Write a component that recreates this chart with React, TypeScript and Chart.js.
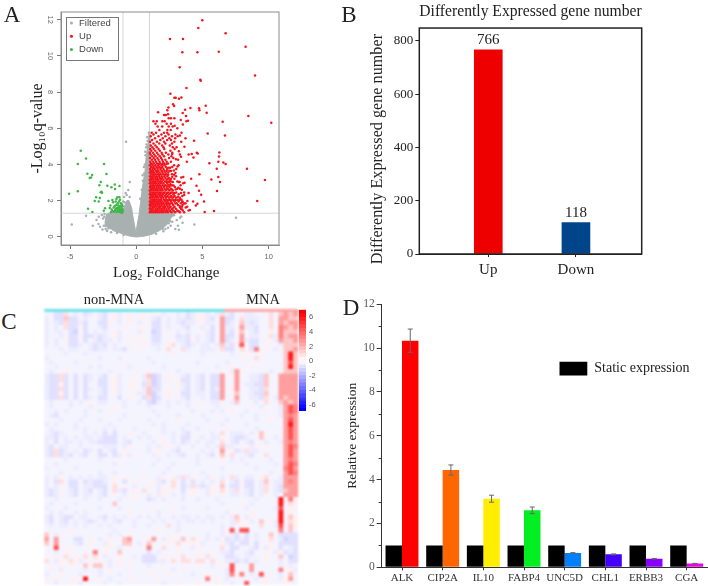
import React, { useEffect, useRef } from "react";
import { Chart, registerables } from "chart.js";

Chart.register(...registerables);

const SERIF = "'Liberation Serif', 'Times New Roman', serif";
const SANS = "'Liberation Sans', Arial, sans-serif";

/* ---------- Panel A: volcano plot ---------- */
const volcanoLegend = ["Filtered", "Up", "Down"];
const volcanoXTicks = [-5, 0, 5, 10];
const volcanoYTicks = [0, 2, 4, 6, 8, 10, 12];
const foldChangeCutoffs = [-1, 1];
const qValueCutoff = 1.3;

const filteredMass = [
  [-2.3, 0.55], [-2.35, 0.85], [-2.25, 1.25], [-1.4, 1.4], [-1, 1.45], [-0.85, 1.75], [-0.7, 2.0], [-0.55, 2.0],
  [-0.35, 1.6], [-0.27, 1.2], [-0.12, 0.6], [-0.02, 0.2], [0.06, 0.6], [0.21, 1.2], [0.33, 1.9], [0.41, 2.4],
  [0.52, 3.0], [0.66, 3.6], [0.72, 4.2], [0.79, 4.63], [0.9, 5.2], [0.98, 5.8], [1.03, 5.8], [1.03, 1.3],
  [2.9, 1.3], [2.6, 1.0], [2.3, 0.65], [1.8, 0.35], [1.2, 0.14], [0.6, 0.03], [0, -0.02], [-0.6, 0.05],
  [-1.2, 0.2], [-1.8, 0.35],
];
const filteredPoints = [
  [-0.77, 5.25], [-0.49, 3.02], [-4.87, 0.68], [-3.79, 1.16], [7.53, 1.05], [4.39, 0.68], [-2.83, 1.1], [-3.0, 0.92],
  [-2.85, 0.7], [-3.28, 0.61], [-2.73, 0.55], [3.06, 0.92], [3.5, 0.77], [3.3, 1.05], [3.15, 0.6], [2.85, 1.18],
  [3.4, 1.12], [2.72, 0.82], [2.6, 0.6], [2.95, 0.42], [3.22, 0.38], [2.4, 0.5], [-2.5, 1.0], [-2.45, 0.6],
  [-2.55, 0.4], [-2.2, 0.32], [-2.6, 1.2], [-1.9, 0.25], [-2.4, 1.25], [-0.6, 2.58], [-0.72, 2.3], [-0.92, 2.2],
  [-0.8, 2.42], [-0.5, 2.2], [-0.98, 1.95], [-0.88, 1.9], [0.6, 3.5], [0.7, 4.5], [0.75, 4.95], [0.85, 5.3],
  [0.95, 5.75], [0.82, 5.5], [0.5, 3.1], [0.42, 2.6], [0.65, 4.0], [0.58, 3.85], [0.9, 5.0], [0.68, 4.7],
  [0.78, 5.1], [0.3, 2.1], [0.48, 3.4], [2.2, 0.42], [2.05, 0.3], [1.5, 0.16], [-1.45, 0.2], [-0.95, 0.1],
  [2.0, 0.42], [2.45, 0.75], [2.7, 1.18], [2.55, 0.85], [-2.1, 0.45], [-2.3, 0.42], [-2.42, 1.1], [-2.0, 1.28],
];
const upSparse = [
  [4.99, 11.98], [4.69, 11.54], [6.75, 11.26], [2.55, 10.93], [3.53, 10.93], [8.26, 10.51], [3.48, 10.21], [4.62, 10.21],
  [6.23, 10.23], [3.28, 9.38], [8.97, 8.92], [4.84, 8.68], [4.87, 8.63], [3.79, 8.22], [2.58, 7.91], [2.88, 7.69],
  [2.98, 7.69], [3.23, 7.63], [3.41, 7.7], [5.25, 7.24], [2.78, 7.32], [2.86, 7.23], [4.09, 7.12], [3.69, 7.02],
  [4.74, 7.1], [4.77, 7.0], [2.43, 7.15], [2.35, 7.0], [5.32, 6.86], [1.65, 6.88], [3.51, 6.84], [2.1, 6.73],
  [2.23, 6.73], [2.4, 6.78], [8.47, 6.67], [6.53, 6.36], [10.2, 6.3], [3.79, 6.38], [5.4, 5.71], [6.7, 5.6],
  [4.37, 5.31], [3.64, 4.98], [6.28, 4.66], [6.25, 4.44], [4.57, 4.65], [4.64, 4.6], [3.96, 4.55], [4.19, 4.57],
  [5.52, 4.06], [6.2, 4.15], [6.58, 4.11], [6.75, 4.02], [6.08, 3.76], [8.36, 3.76], [4.77, 3.45], [6.2, 3.3],
  [5.67, 3.17], [6.33, 3.02], [9.72, 3.13], [6.1, 2.53], [4.74, 2.54], [9.14, 1.97], [5.12, 1.94], [4.62, 1.82],
  [4.3, 1.94], [5.17, 1.36], [5.87, 1.42], [4.55, 2.82], [4.9, 2.32], [4.5, 1.72], [3.95, 2.42], [4.15, 3.2],
  [3.65, 2.98], [3.4, 3.28], [3.55, 3.3], [3.82, 4.15], [4.32, 4.38], [3.3, 5.6], [3.42, 5.75], [3.72, 5.45],
  [3.1, 6.0], [3.52, 6.2], [2.9, 6.14], [3.36, 6.46], [3.76, 6.67], [2.88, 6.55], [3.91, 6.41],
  [2.72, 3.32], [2.96, 3.52], [3.12, 3.88], [2.84, 3.66], [3.28, 3.02], [3.18, 2.71], [3.44, 2.6], [3.62, 2.3],
  [3.3, 2.08], [3.5, 1.92], [3.74, 1.62], [3.28, 1.7], [3.12, 1.42], [3.42, 1.52], [3.86, 1.98], [4.05, 1.48],
  [2.84, 2.41], [2.96, 2.02], [2.68, 1.52], [2.58, 2.9], [3.0, 4.28], [2.72, 4.58], [3.22, 4.72], [3.38, 4.42],
];
const upRows: [number, number[]][] = [
  [1.35, [1.03, 1.18, 1.32, 1.46, 1.6, 1.74, 1.9, 2.05, 2.22, 2.4, 2.66, 2.95, 3.3, 3.62]],
  [1.45, [1.08, 1.24, 1.4, 1.55, 1.7, 1.86, 2.0, 2.16, 2.33, 2.52, 2.8, 3.1, 3.52, 3.95]],
  [1.55, [1.02, 1.15, 1.3, 1.48, 1.62, 1.78, 1.95, 2.1, 2.28, 2.45, 2.72, 3.0, 3.4]],
  [1.65, [1.06, 1.22, 1.38, 1.52, 1.68, 1.84, 2.02, 2.2, 2.38, 2.6, 2.9, 3.45, 3.85]],
  [1.75, [1.02, 1.16, 1.3, 1.44, 1.6, 1.76, 1.92, 2.12, 2.3, 2.5, 2.78, 3.15, 3.5]],
  [1.85, [1.08, 1.25, 1.4, 1.56, 1.72, 1.88, 2.06, 2.26, 2.44, 2.7, 3.05, 3.38, 3.72]],
  [1.95, [1.03, 1.18, 1.34, 1.5, 1.66, 1.82, 1.98, 2.18, 2.36, 2.62, 2.88, 3.2, 3.48]],
  [2.05, [1.1, 1.26, 1.42, 1.58, 1.74, 1.9, 2.1, 2.32, 2.55, 2.82, 3.12, 3.42]],
  [2.15, [1.04, 1.2, 1.36, 1.52, 1.68, 1.86, 2.04, 2.24, 2.48, 2.72, 3.0, 3.3]],
  [2.25, [1.1, 1.28, 1.44, 1.6, 1.78, 1.96, 2.16, 2.38, 2.64, 2.9, 3.48]],
  [2.35, [1.03, 1.18, 1.34, 1.5, 1.68, 1.84, 2.02, 2.26, 2.5, 2.8, 3.2]],
  [2.45, [1.08, 1.24, 1.4, 1.58, 1.74, 1.92, 2.14, 2.4, 2.68, 3.02, 3.62]],
  [2.55, [1.02, 1.16, 1.32, 1.48, 1.64, 1.82, 2.0, 2.22, 2.52, 2.76]],
  [2.65, [1.1, 1.26, 1.42, 1.6, 1.76, 1.94, 2.14, 2.36, 2.62, 3.1, 3.3]],
  [2.75, [1.04, 1.2, 1.36, 1.54, 1.7, 1.88, 2.08, 2.3, 2.5, 2.92]],
  [2.85, [1.1, 1.28, 1.44, 1.6, 1.78, 1.98, 2.2, 2.44, 2.7, 3.35]],
  [2.95, [1.03, 1.18, 1.34, 1.5, 1.68, 1.86, 2.06, 2.34, 3.55]],
  [3.05, [1.08, 1.24, 1.42, 1.6, 1.76, 1.96, 2.18, 2.42, 2.64, 3.1]],
  [3.15, [1.02, 1.16, 1.32, 1.5, 1.66, 1.84, 2.06, 2.3, 2.55]],
  [3.25, [1.1, 1.26, 1.44, 1.6, 1.78, 1.98, 2.2, 2.46]],
  [3.35, [1.04, 1.2, 1.38, 1.54, 1.72, 1.92, 2.12, 2.35, 3.0]],
  [3.45, [1.12, 1.28, 1.46, 1.64, 1.84, 2.04, 2.28, 2.7]],
  [3.55, [1.03, 1.2, 1.36, 1.56, 1.76, 1.98, 2.2, 2.42]],
  [3.65, [1.1, 1.28, 1.48, 1.68, 1.9, 2.14, 2.5]],
  [3.75, [1.04, 1.22, 1.4, 1.6, 1.82, 2.06, 2.34, 3.02]],
  [3.85, [1.12, 1.32, 1.52, 1.74, 1.98, 2.24, 2.72]],
  [3.95, [1.03, 1.24, 1.44, 1.66, 1.9, 2.14, 2.86, 3.2]],
  [4.05, [1.12, 1.36, 1.58, 1.82, 2.1, 2.4]],
  [4.15, [1.06, 1.28, 1.5, 1.76, 2.02, 2.3, 2.62]],
  [4.25, [1.18, 1.42, 1.68, 1.96, 2.2, 3.16]],
  [4.35, [1.04, 1.32, 1.6, 1.88, 2.48, 2.8]],
  [4.45, [1.2, 1.46, 1.78, 2.1, 2.66]],
  [4.55, [1.08, 1.36, 1.66, 1.98, 2.42, 3.3]],
  [4.65, [1.02, 1.26, 1.56, 1.92, 2.24, 2.72]],
  [4.75, [1.14, 1.44, 1.78, 2.58]],
  [4.85, [1.06, 1.32, 1.68, 2.12, 2.9]],
  [4.95, [1.22, 1.56, 2.06, 2.76, 3.05]],
  [5.05, [1.1, 1.44, 1.96, 2.54]],
  [5.15, [1.3, 1.74, 2.2, 2.7]],
  [5.25, [1.05, 1.56, 2.1, 2.88, 3.4]],
  [5.35, [1.2, 1.82, 2.34, 2.62]],
  [5.45, [1.42, 2.0, 2.5, 2.94]],
  [5.55, [1.1, 1.68, 2.2, 2.7, 3.13]],
  [5.65, [1.3, 1.9, 2.44, 2.96]],
  [5.75, [1.17, 1.5, 2.1, 2.34]],
  [5.9, [1.75, 2.35, 2.6]],
  [6.1, [1.62, 1.96, 2.45, 2.75]],
  [6.25, [1.45, 2.3, 2.62]],
  [6.38, [1.3, 1.55, 1.97, 2.15]],
  [6.55, [2.45, 2.62]],
  [1.41, [1.12, 1.51, 1.93, 2.31, 2.57, 2.84, 3.21]],
  [1.62, [1.26, 1.73, 2.14, 2.53, 2.83, 3.3]],
  [1.83, [1.14, 1.63, 1.97, 2.37, 2.58, 2.96, 3.62]],
  [2.02, [1.33, 1.81, 2.21, 2.46, 2.68, 2.95, 3.25]],
  [2.21, [1.17, 1.57, 1.93, 2.31, 2.58, 2.81, 3.15]],
  [2.42, [1.29, 1.78, 2.08, 2.33, 2.59, 2.9, 3.38]],
  [2.61, [1.13, 1.56, 1.88, 2.29, 2.44, 2.7, 2.98]],
  [2.83, [1.24, 1.66, 2.13, 2.37, 2.6, 2.82]],
  [3.02, [1.38, 1.83, 2.27, 2.5, 2.76, 3.2]],
  [3.21, [1.14, 1.55, 1.9, 2.38, 2.62, 2.88]],
  [3.42, [1.33, 1.73, 2.16, 2.42, 2.86]],
  [3.63, [1.16, 1.6, 1.96, 2.3, 2.62]],
  [3.82, [1.28, 1.62, 1.88, 2.42, 2.56]],
  [4.02, [1.17, 1.72, 1.98, 2.28]],
];
const downPoints = [
  [-4.19, 4.76], [-3.79, 4.33], [-4.41, 4.02], [-2.43, 4.02], [-3.69, 3.48], [-3.33, 3.41], [-3.51, 3.24], [-3.41, 3.28],
  [-2.25, 3.47], [-5.07, 2.38], [-4.41, 2.51], [-2.68, 3.02], [-2.78, 2.84], [-2.18, 2.82], [-1.62, 2.89], [-1.27, 2.8],
  [-1.87, 2.73], [-1.6, 2.64], [-2.63, 2.49], [-2.58, 2.43], [-2.68, 2.46], [-3.03, 2.18], [-2.75, 2.14], [-3.13, 1.97],
  [-2.83, 1.94], [-3.64, 1.55], [-3.31, 1.36], [-2.35, 1.57], [-2.45, 1.44], [-2.1, 1.97], [-1.8, 2.03], [-1.42, 2.18],
  [-1.27, 2.18], [-1.95, 1.72], [-1.85, 1.5], [-1.75, 1.9], [-1.68, 1.38], [-1.62, 1.7], [-1.58, 1.48], [-1.55, 1.95],
  [-1.5, 2.08], [-1.48, 1.36], [-1.44, 1.6], [-1.4, 1.85], [-1.38, 1.45], [-1.35, 1.72], [-1.32, 1.38], [-1.3, 1.95],
  [-1.28, 1.55], [-1.25, 1.42], [-1.22, 2.05], [-1.2, 1.7], [-1.18, 1.35], [-1.16, 1.85], [-1.14, 1.5], [-1.12, 1.62],
  [-1.1, 1.4], [-1.08, 1.78], [-1.06, 1.33], [-1.04, 1.52], [-1.03, 1.68], [-1.02, 1.42], [-1.55, 1.55], [-1.7, 1.62],
  [-1.8, 1.42], [-1.9, 1.36], [-1.5, 1.75], [-1.3, 1.62], [-1.2, 1.5], [-1.42, 1.5], [-1.62, 1.42], [-2.0, 1.58],
];

/* ---------- Panel B ---------- */
const geneTitle = "Differently Expressed gene number";
const directionLabels = ["Up", "Down"];
const directionCounts = [766, 118];
const directionColors = ["#ee0000", "#00458a"];
const countTicks = [0, 200, 400, 600, 800];

/* ---------- Panel C: heat map, one string per row, one character per sample ---------- */
const heatLevels: Record<string, number> = {
  ".": -0.28, a: -0.5, b: -0.78, c: -1.15, "1": 0.4, "2": 0.85, "3": 1.45, "4": 2.5, "5": 3.3, "6": 4.5, "7": 6,
};
const nonMnaCount = 37;
const mnaCount = 15;
const heatRows = [
  "..bb2.a.ba .ab.1a.1.. ..1.a..a.b a.1a.a2ab. .aa...2.34 34",
  "a.bb3bb.a. .ab.1a.1.1 1.ab.a.aab a11ab.4bb. 2aaa..2.44 33",
  "a.ab2bbab. .bb1.a.1.a .1bb.a.aba a.1aa.4ba. 3aba..2.43 44",
  "a.a.2bb1b. .ab...1..1 ..bb.a..ab ..a.b.4aa. 4aab..2.54 34",
  "a.aa.bc.b. a.a.1a...a 1.cb.1.a.a ..1ab.4ab1 3.ab..1.53 33",
  "a..a.bb1bb aba.1a.1.1 ..bb...bab .a.ab.4bb. 4.aa..2a53 44",
  "a.a.1bb.b. abaa.a..1. 1.bb.1.aab 1a.ab.4ba. 4abb.1.a43 34",
  "a.a..bba.a bab.a..1.. 1.aa.12.ab a.aa.a3ab1 6.bb..1.a3 33",
  "...a.aa..a baa.aab..1 ...a.2..2a ..aaa.2bb. 21b5.1.a.3 34",
  "....a...a. .......... ......1... ..a.....a. .1..1....3 73",
  "a......... .a...a.... .a........ .......... 1..2.....3 73",
  ".a....a... ......1... ..a....... .a.....a.. ....1....3 63",
  "..a......a .a.....a.. ....a..... .....a..1. ..1......3 73",
  ".a..1..... ...a...... .1.....a.. ......1.a4 1.....a..3 33",
  "abb2b.b.ba .ab.1a..1. a3cb.1..ab .ab.bb4.14 ..aab3..44 44",
  "abb2b.b.ba .bb.1a..1. a2cb.1.1bb .ab.bb4..4 ..aab3..44 44",
  "abb1b.b.b. .bb.1a.1.. b2cb...1ab .ab.bb4..4 .aabb3..44 44",
  "abb2b.b.ba .ab.1a..1. a3bb.1..ab .ab.ba4.14 ..aab2..44 44",
  "abb1b.b.b. .ab.1a..1a a3ca.1.1bb .aa.bb4..3 ..abb3..44 44",
  "abb2b.b.ba .bb..b.1.. b2cb.1..ab ..a.bb4..4 ..aab2.a43 44",
  ".a...a.a.1 .aa...a..a .bca.a.a.a ..1.aa1.a3 ...a.2..34 34",
  ".a...a...a ....1.a... .a...a...a .....a.... ..1.a...a4 65",
  "..a.a...a. .a.1...... ..a....... a...a.a.1. .a...1..a4 65",
  ".ab.....a. ......a... ...a...a.. ..a....... a..a....a4 54",
  "...a...a.. .a...a.... .a.....1.. ...a...a.. ...a..1..4 64",
  "a.a...a... ...a...... ..a.a....a ......a... .a.......4 74",
  ".a....a.a. ..a.a...a. ....a...a. .a.....1.. ...a.....4 64",
  ".aba....a. a.b.b..1.. a...a.a.ab ....a.2.aa a.a.3....4 64",
  "aab.a.a.aa .abbb.a..a .a.1..a.bb .1a.aa1.ab ba..3..a.4 64",
  "a.b.aa.a.a abbbb.ab.. ..a.1.a.ba .a.aa.2.ab .ab..a..a4 54",
  "ab.aa..a.. ..aaa.a1.. .a.a.1.a.. a..a.a3aa. .1a1.1...4 65",
  "ab2ba.a.ba .b.ab.1... .a.1..ab.. ..a.a.4.1b a2aa.....4 64",
  "ab2bab.ab. .bb.ba.a1. ..a1.a.ab. .a.ab.3.2. .ab..2...4 64",
  "....a..... .a...1.... ...a...... .a....1.a. a.....a..4 54",
  "..a....... ....a..... ..a...a... .a........ .a.....a.4 65",
  "a.....a... .......... .....a.... ......a... ...a.....5 64",
  "...a...... .a..a..... ....a..... ..a....... ......a..4 65",
  "a.a1.a.a.a .aa.1.1... 1..a1.1a2a 1..a1.a.2a .aa.12..a4 44",
  "a.b2.bb.ba bba.1.b.1. ..1ab.2.b. b.a.a.2.ab 1bb.a3.aa4 54",
  "a.a1.bb.aa bbb.2.1.a. .1.a1.2.ba 2aba1.3.bb .bb.a2.ab4 44",
  "aba..ab.ab .ab.2ab.1. 2..a1.1.b. 1..a1.2.a2 .ab.a2.ab3 44",
  "aba1.ab.aa .ab.1.a.1. .a1a1.a.a. 1..a1.1.aa .ab.a1.a.4 44",
  "..a.....a. .a...a..1. .ba.a...a. .a...a.... ...a....7. 51",
  ".a....a... ....3..... .....1.... ......a... 1.a.....7. 21",
  "a...a..... .a...a.... ..1.....a. ...a...... .a.....a6. 1.",
  ".a.a..a.a. .......1.. ...a..1... .......a1. ..1.....7. 1.",
  "ab.abb.aa. .ab.a.a..a .a.a..a.aa .a.aa.a.a3 .a1.....7. 31",
  "ab.ab.a.ab a.a.ab..a. ..a.a..a.a a.a.a...a2 1.a.3.1a7. 21",
  ".a.aa.a.a. .a.a....a. .a...2.a.. ......a.a. .1..2..a6. 31",
  ".....1.... ....a..... ...1...a.. ......a.6. 66......5. 3.",
  "3.a1...... ...a.a.1.. .......1.. ...a..a1ab .b.a..3.bb bb",
  "4.4...bb.1 .a.1..34.. .14.a11.3. 21.a.a.bab ab.a..2.ac bb",
  "3.4...ab.1 ..a1..33.a .3...1.2.1 1.a...1ab. bb.b..1.bb bb",
  "..6..1.... ..11.a.1.. .5..2..1.. a.1...2.bb ..ab.a1.b. ab",
  "..a.1...1. 5.1..3.... .b.a...1.. .1..1.aab. .ab..1.a1b ab",
  "1.1.2.1.2. 2.a..1..a. bbb.1.1.2. .1.2...bba .aa..1..3. cb",
  "2.a1.21a.1 .1.a.1.1.. bbbaa.2.22 .22.2..aab ab.a.1..a. bb",
  "...1.1..3. 33.a.1.... .a..1..... .1..a.1.6. ..4.....a1 a.",
  ".1.a....a. .a.1...1.. ..1...a.1. .......a6. ..4.....5. 1a",
  "a..1...a.. .a...a.... .1...1.... a..1...a5. 5.a.6...a. 3.",
  "..1...1.7. .1.a...1.. ...1...... ...5.1.a.. ...a.1..a1 4.",
  "1.a..1.a.. ..a..a.... 1...a..1.. .1...1..a. .6...1...1 ..",
];
const colorbarStops = [-7, -6.5, -6, -5.5, -5, -4.5, -4, -3.5, -3, -2.5, -2, -1.5, -1, -0.5, 0, 0.5, 1, 1.5, 2, 2.5, 3, 3.5, 4, 4.5, 5, 5.5, 6, 6.5, 7];
const colorbarTicks = [-6, -4, -2, 0, 2, 4, 6];

/* ---------- Panel D ---------- */
const qpcrGenes = ["ALK", "CIP2A", "IL10", "FABP4", "UNC5D", "CHL1", "ERBB3", "CGA"];
const staticExpression = [1, 1, 1, 1, 1, 1, 1, 1];
const relativeExpression = [10.34, 4.44, 3.13, 2.6, 0.65, 0.59, 0.39, 0.17];
const relativeErrors = [0.53, 0.23, 0.16, 0.15, 0.02, 0.02, 0.01, 0.01];
const geneColors = ["#ff0000", "#ff6600", "#ffee00", "#00ee22", "#0080ff", "#4400ff", "#8800ff", "#ee00ee"];
const minorExpressionTicks = [1, 3, 5, 7, 9, 11];
const expressionTicks = [0, 2, 4, 6, 8, 10, 12];

/* ---------- helpers ---------- */
const fixSize = (dim: "width" | "height", size: number) => (s: any) => {
  s[dim] = size;
  s.paddingLeft = s.paddingRight = s.paddingTop = s.paddingBottom = 0;
};
const pairs = (list: number[][]) => list.map(([x, y]) => ({ x, y }));
const heatColor = (v: number) => {
  const t = Math.min(Math.abs(v) / 6.6, 1);
  const c = Math.round(255 * (1 - t));
  return v >= 0 ? `rgb(255,${c},${c})` : `rgb(${c},${c},255)`;
};

const framePlugin = {
  id: "frame",
  afterDatasetsDraw(chart: any, _a: any, o: any) {
    if (!o.color) return;
    const { left, top, width, height } = chart.chartArea;
    const ctx = chart.ctx;
    ctx.save();
    ctx.strokeStyle = o.color;
    ctx.lineWidth = o.width;
    ctx.strokeRect(left, top, width, height);
    ctx.restore();
  },
};
const legendPlace = {
  id: "legendPlace",
  beforeDraw(chart: any, _a: any, o: any) {
    if (o.left === undefined) return;
    chart.legend.left = o.left;
    chart.legend.top = o.top;
    chart.legend.right = o.left + 300;
    chart.legend.bottom = o.top + 200;
    if (o.box) {
      const ctx = chart.ctx;
      ctx.save();
      ctx.fillStyle = "#fff";
      ctx.strokeStyle = "#777";
      ctx.lineWidth = 1;
      ctx.fillRect(o.box[0], o.box[1], o.box[2], o.box[3]);
      ctx.strokeRect(o.box[0], o.box[1], o.box[2], o.box[3]);
      ctx.restore();
    }
  },
};
const barValues = {
  id: "barValues",
  afterDatasetsDraw(chart: any, _a: any, o: any) {
    if (!o.show) return;
    const ctx = chart.ctx;
    ctx.save();
    ctx.font = o.font;
    ctx.fillStyle = o.color;
    ctx.textAlign = "center";
    ctx.textBaseline = "bottom";
    chart.getDatasetMeta(0).data.forEach((b: any, i: number) => {
      ctx.fillText(String(directionCounts[i]), b.x, b.y - 2);
    });
    ctx.restore();
  },
};
const errorBars = {
  id: "errorBars",
  afterDatasetsDraw(chart: any, _a: any, o: any) {
    if (!o.errors) return;
    const ctx = chart.ctx;
    const y = chart.scales.y;
    const x = chart.scales.x;
    ctx.save();
    ctx.strokeStyle = "#666";
    ctx.lineWidth = 1;
    chart.getDatasetMeta(o.dataset).data.forEach((b: any, i: number) => {
      const v = o.values[i];
      const hi = y.getPixelForValue(v + o.errors[i]);
      const lo = y.getPixelForValue(v - o.errors[i]);
      ctx.beginPath();
      ctx.moveTo(b.x, hi);
      ctx.lineTo(b.x, lo);
      ctx.moveTo(b.x - 2.5, hi);
      ctx.lineTo(b.x + 2.5, hi);
      ctx.moveTo(b.x - 2.5, lo);
      ctx.lineTo(b.x + 2.5, lo);
      ctx.stroke();
    });
    ctx.strokeStyle = "#333";
    (o.minor || []).forEach((v: number) => {
      const p = Math.round(y.getPixelForValue(v)) + 0.5;
      ctx.beginPath();
      ctx.moveTo(x.left - 3, p);
      ctx.lineTo(x.left, p);
      ctx.stroke();
    });
    ctx.restore();
  },
};
Chart.register(framePlugin, legendPlace, barValues, errorBars);

/* ---------- chart configs ---------- */
const GRAY_TICK = "#666";
const configA = (): any => {
  const xMin = -5.68, xMax = 10.78, yMin = -0.46, yMax = 12.43;
  const upPoints = [
    ...upSparse.map(([x, y]) => ({ x, y })),
    ...upRows.flatMap(([y, xs]) => xs.map((x) => ({ x, y }))),
  ];
  const dot = { type: "scatter", pointRadius: 1.25, pointBorderWidth: 0, pointHoverRadius: 1.25, showLine: false, pointStyle: "circle" };
  const rule = { type: "scatter", showLine: true, pointRadius: 0, borderColor: "#d4d6d6", borderWidth: 1, order: 9, fill: false };
  return {
    type: "scatter",
    data: {
      datasets: [
        { ...dot, label: volcanoLegend[0], data: pairs(filteredPoints), backgroundColor: "#a9b0b0", borderColor: "#a9b0b0", order: 4 },
        { ...dot, label: volcanoLegend[1], data: upPoints, backgroundColor: "#f5141e", borderColor: "#f5141e", order: 1 },
        { ...dot, label: volcanoLegend[2], data: pairs(downPoints), backgroundColor: "#3fb548", borderColor: "#3fb548", order: 2 },
        { type: "scatter", label: "mass", data: pairs(filteredMass), showLine: true, fill: "shape", pointRadius: 0, borderWidth: 1, borderColor: "#a9b0b0", backgroundColor: "#a9b0b0", order: 5, tension: 0 },
        { ...rule, label: "low", data: [{ x: foldChangeCutoffs[0], y: yMin }, { x: foldChangeCutoffs[0], y: yMax }] },
        { ...rule, label: "high", data: [{ x: foldChangeCutoffs[1], y: yMin }, { x: foldChangeCutoffs[1], y: yMax }] },
        { ...rule, label: "q", data: [{ x: xMin, y: qValueCutoff }, { x: xMax, y: qValueCutoff }] },
      ],
    },
    options: {
      responsive: false,
      animation: false,
      layout: { padding: { left: 0, top: 12, right: 51, bottom: 0 } },
      plugins: {
        legend: {
          position: "chartArea",
          align: "start",
          labels: {
            usePointStyle: true,
            boxWidth: 5.7,
            boxHeight: 2.2,
            padding: 3.8,
            color: "#444",
            font: { family: SANS, size: 9.5 },
            filter: (i: any) => volcanoLegend.includes(i.text),
            sort: (a: any, b: any) => volcanoLegend.indexOf(a.text) - volcanoLegend.indexOf(b.text),
          },
        },
        tooltip: { enabled: false },
        frame: { color: "#8a8c8c", width: 1 },
        legendPlace: { left: 64.8, top: 14.4, box: [66.5, 17.5, 52, 43] },
      },
      scales: {
        x: {
          type: "linear",
          min: xMin,
          max: xMax,
          afterFit: fixSize("height", 45),
          afterBuildTicks: (a: any) => { a.ticks = volcanoXTicks.map((value) => ({ value })); },
          grid: { drawOnChartArea: false, tickLength: 4, color: "#777" },
          border: { color: "#8a8c8c" },
          ticks: { color: GRAY_TICK, font: { family: SANS, size: 7.5 }, padding: 3, maxRotation: 0 },
          title: { display: true, text: "Log₂ FoldChange  ", font: { family: SERIF, size: 15 }, color: "#222", padding: { top: 0, bottom: 8 } },
        },
        y: {
          type: "linear",
          min: yMin,
          max: yMax,
          afterFit: fixSize("width", 61),
          afterBuildTicks: (a: any) => { a.ticks = volcanoYTicks.map((value) => ({ value })); },
          grid: { drawOnChartArea: false, tickLength: 4, color: "#777" },
          border: { color: "#8a8c8c" },
          ticks: { color: GRAY_TICK, font: { family: SANS, size: 7.5 }, padding: 3, minRotation: -90, maxRotation: -90, crossAlign: "center" },
          title: { display: true, text: "-Log₁₀q-value", font: { family: SERIF, size: 16 }, color: "#222", padding: { top: 28, bottom: 0 } },
        },
      },
    },
  };
};

const configB = (): any => ({
  type: "bar",
  data: {
    datasets: [
      {
        label: geneTitle,
        data: directionLabels.map((_, i) => ({ x: i + 1, y: directionCounts[i] })),
        backgroundColor: directionColors,
        barThickness: 28,
      },
    ],
  },
  options: {
    responsive: false,
    animation: false,
    layout: { padding: { left: 0, top: 0, right: 66.3, bottom: 0 } },
    plugins: {
      legend: { display: false },
      tooltip: { enabled: false },
      title: { display: true, text: geneTitle, fullSize: false, color: "#222", font: { family: SERIF, size: 16.2, weight: "normal" }, padding: { top: 2.3, bottom: 6.3 } },
      frame: { color: "#222", width: 1.5 },
      barValues: { show: true, font: `15px ${SERIF}`, color: "#222" },
    },
    scales: {
      x: {
        type: "linear",
        min: 0.213,
        max: 2.75,
        offset: false,
        afterFit: fixSize("height", 36),
        afterBuildTicks: (a: any) => { a.ticks = directionLabels.map((_, i) => ({ value: i + 1 })); },
        grid: { drawOnChartArea: false, offset: false, tickLength: 3, color: "#222" },
        border: { color: "#222" },
        ticks: { color: "#222", font: { family: SERIF, size: 15 }, padding: 4, maxRotation: 0, callback: (v: number) => directionLabels[v - 1] },
      },
      y: {
        type: "linear",
        min: 0,
        max: 848,
        afterFit: fixSize("width", 89.3),
        afterBuildTicks: (a: any) => { a.ticks = countTicks.map((value) => ({ value })); },
        grid: { drawOnChartArea: false, tickLength: 4, color: "#222" },
        border: { color: "#222" },
        ticks: { color: "#222", font: { family: SERIF, size: 13 }, padding: 2 },
        title: { display: true, text: geneTitle + "    ", color: "#222", font: { family: SERIF, size: 16.2 }, padding: { top: 38.3, bottom: 0 } },
      },
    },
  },
});

const configC = (): any => {
  const rows = heatRows.map((r) => r.replace(/ /g, ""));
  const sampleLabels = Array.from({ length: nonMnaCount + mnaCount }, (_, i) => `S${i + 1}`);
  const groupColors = sampleLabels.map((_, i) => (i < nonMnaCount ? "#62e2e8" : "#ffa3a3"));
  const strip = -0.55;
  return {
    type: "bar",
    data: {
      labels: sampleLabels,
      datasets: [
        { label: "group", data: sampleLabels.map(() => [strip, 0]), backgroundColor: groupColors },
        ...rows.map((row, r) => ({
          label: `gene ${r + 1}`,
          data: sampleLabels.map(() => [r, r + 1]),
          backgroundColor: sampleLabels.map((_, c) => heatColor(heatLevels[row[c]] ?? 0)),
        })),
      ],
    },
    options: {
      responsive: false,
      animation: false,
      layout: { padding: { left: 0.3, top: 0, right: 0.7, bottom: 0 } },
      datasets: { bar: { grouped: false, barPercentage: 1, categoryPercentage: 1, borderWidth: 0 } },
      plugins: { legend: { display: false }, tooltip: { enabled: false } },
      scales: {
        x: { type: "category", display: false, grid: { display: false } },
        y: { type: "linear", display: false, min: strip, max: rows.length, reverse: true },
      },
    },
  };
};

const configBar = (): any => ({
  type: "bar",
  data: {
    labels: ["scale"],
    datasets: colorbarStops.slice(1).map((top, i) => ({
      label: `${top}`,
      data: [[colorbarStops[i], top]],
      backgroundColor: heatColor((colorbarStops[i] + top) / 2),
    })),
  },
  options: {
    responsive: false,
    animation: false,
    layout: { padding: { left: 7, top: 4.3, right: 0, bottom: 4 } },
    datasets: { bar: { grouped: false, barPercentage: 1, categoryPercentage: 1, borderWidth: 0 } },
    plugins: { legend: { display: false }, tooltip: { enabled: false } },
    scales: {
      x: { type: "category", display: false },
      y: {
        type: "linear",
        position: "right",
        min: -6.85,
        max: 7.1,
        afterFit: fixSize("width", 26),
        afterBuildTicks: (a: any) => { a.ticks = colorbarTicks.map((value) => ({ value })); },
        grid: { display: false, drawTicks: false },
        border: { display: false },
        ticks: { color: "#555", font: { family: SANS, size: 7.5 }, padding: 3 },
      },
    },
  },
});

const configD = (): any => ({
  type: "bar",
  data: {
    labels: qpcrGenes,
    datasets: [
      { label: "Static expression", data: staticExpression, backgroundColor: "#000" },
      { label: "Relative expression", data: relativeExpression, backgroundColor: geneColors },
    ],
  },
  options: {
    responsive: false,
    animation: false,
    layout: { padding: { left: 0, top: 14.3, right: 1, bottom: 0 } },
    datasets: { bar: { barPercentage: 1, categoryPercentage: 0.81 } },
    plugins: {
      legend: {
        position: "chartArea",
        align: "start",
        labels: {
          boxWidth: 28,
          boxHeight: 14,
          padding: 0,
          color: "#222",
          font: { family: SERIF, size: 14 },
          filter: (i: any) => i.text === "Static expression",
        },
      },
      tooltip: { enabled: false },
      legendPlace: { left: 229.3, top: 71.5 },
      errorBars: { dataset: 1, values: relativeExpression, errors: relativeErrors, minor: minorExpressionTicks },
    },
    scales: {
      x: {
        afterFit: fixSize("height", 18.7),
        grid: { drawOnChartArea: false, offset: false, tickLength: 3, color: "#333" },
        border: { color: "#333" },
        ticks: { color: "#333", font: { family: SERIF, size: 11 }, padding: 1, maxRotation: 0, autoSkip: false },
      },
      y: {
        min: 0,
        max: 12,
        afterFit: fixSize("width", 51.67),
        afterBuildTicks: (a: any) => { a.ticks = expressionTicks.map((value) => ({ value })); },
        grid: { drawOnChartArea: false, tickLength: 5, color: "#333" },
        border: { color: "#333" },
        ticks: { color: "#555", font: { family: SERIF, size: 11.5 }, padding: 2 },
        title: { display: true, text: "Relative expression", color: "#222", font: { family: SERIF, size: 13.5 }, padding: { top: 13.9, bottom: 0 } },
      },
    },
  },
});

function Panel({ left, top, width, height, config, blur }: { left: number; top: number; width: number; height: number; config: () => any; blur?: number }) {
  const ref = useRef<HTMLCanvasElement>(null);
  useEffect(() => {
    const chart = new Chart(ref.current as HTMLCanvasElement, config());
    return () => chart.destroy();
  }, [config]);
  return <canvas ref={ref} width={width} height={height} style={{ position: "absolute", left, top, width, height, filter: blur ? `blur(${blur}px)` : undefined }} />;
}

function Label({ x, y, size, children }: { x: number; y: number; size: number; children: React.ReactNode }) {
  return (
    <div style={{ position: "absolute", left: x, top: y, transform: "translate(-50%,-50%)", fontFamily: SERIF, fontSize: size, color: "#222", lineHeight: 1, whiteSpace: "nowrap" }}>
      {children}
    </div>
  );
}

export default function App() {
  return (
    <div style={{ position: "absolute", left: 0, top: 0, width: 708, height: 586, overflow: "hidden", background: "#fff" }}>
      <Panel left={0} top={0} width={330} height={290} config={configA} />
      <Panel left={330} top={0} width={378} height={290} config={configB} />
      <Panel left={44} top={309} width={255} height={276} config={configC} blur={0.8} />
      <Panel left={292} top={305} width={40} height={110} config={configBar} />
      <Panel left={330} top={290} width={378} height={296} config={configD} />
      <Label x={12} y={14} size={23}>A</Label>
      <Label x={349} y={14} size={23}>B</Label>
      <Label x={9} y={321} size={23}>C</Label>
      <Label x={351} y={307} size={23}>D</Label>
      <Label x={114} y={299} size={14.5}>non-MNA</Label>
      <Label x={263} y={299} size={14.5}>MNA</Label>
    </div>
  );
}
